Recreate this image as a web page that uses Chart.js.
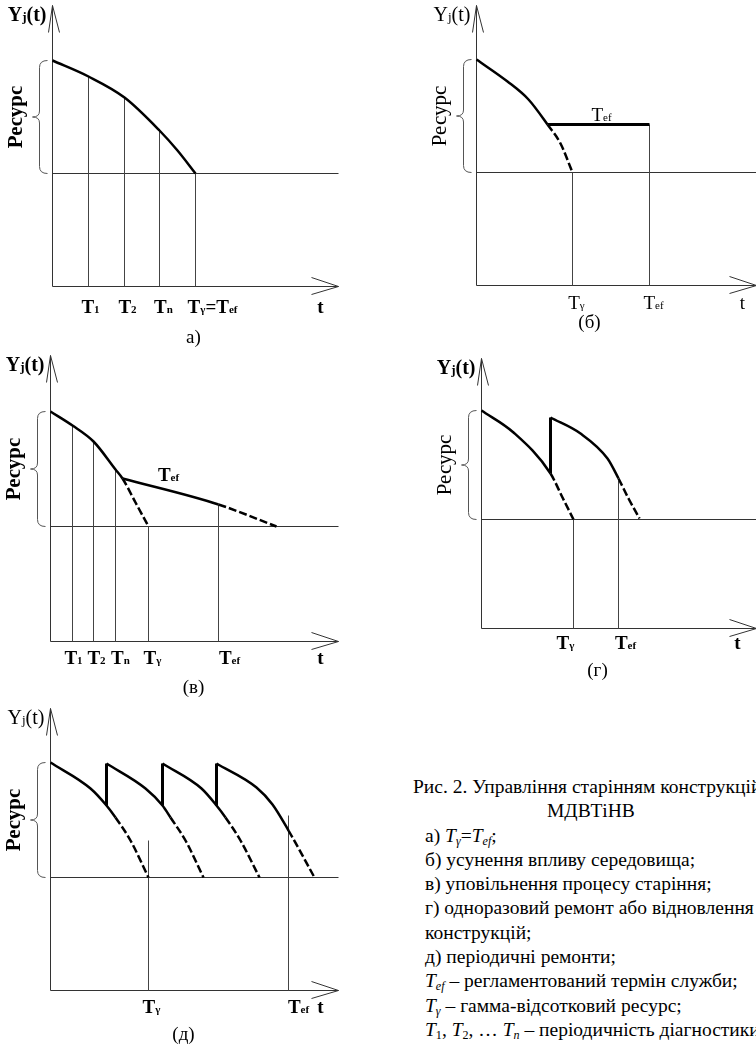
<!DOCTYPE html>
<html>
<head>
<meta charset="utf-8">
<script src="https://cdn.jsdelivr.net/npm/chart.js@4.4.0/dist/chart.umd.min.js"></script>
<style>
body { margin: 0; width: 756px; height: 1048px; overflow: hidden; background: #fff; position: relative; font-family: "Liberation Serif", "Times New Roman", serif; }
canvas { position: absolute; }
#cap { position: absolute; left: 380px; top: 775px; width: 376px; font-size: 19.5px; line-height: 24.3px; white-space: nowrap; overflow: hidden; color: #000; }
#cap sub { font-size: 0.62em; vertical-align: -0.25em; line-height: 0; }
</style>
</head>
<body>
<canvas id="pa"></canvas>
<canvas id="pb"></canvas>
<canvas id="pc"></canvas>
<canvas id="pd"></canvas>
<canvas id="pe"></canvas>
<div id="cap">
  <div style="margin-left:33px">Рис. 2. Управління старінням конструкцій</div>
  <div style="margin-left:167px">МДВТіНВ</div>
  <div style="margin-left:45px">а) <i>T<sub>γ</sub></i>=<i>T<sub>ef</sub></i>;</div>
  <div style="margin-left:45px">б) усунення впливу середовища;</div>
  <div style="margin-left:45px">в) уповільнення процесу старіння;</div>
  <div style="margin-left:45px">г) одноразовий ремонт або відновлення</div>
  <div style="margin-left:45px">конструкцій;</div>
  <div style="margin-left:45px">д) періодичні ремонти;</div>
  <div style="margin-left:45px"><i>T<sub>ef</sub></i> – регламентований термін служби;</div>
  <div style="margin-left:45px"><i>T<sub>γ</sub></i> – гамма-відсотковий ресурс;</div>
  <div style="margin-left:45px"><i>T</i><sub>1</sub>, <i>T</i><sub>2</sub>, … <i>T<sub>n</sub></i> – періодичність діагностики</div>
</div>
<script>
// t - час від початку координат, Y - рівень ресурсу (вгору), одиниці схеми

// а) Tγ = Tef
const aCurveT = [0, 36, 72, 107, 125, 143];
const aCurveY = [226, 210, 189, 156, 136, 113];
const aGuideT = [36, 72, 107, 143];
const aGuideY = [210, 189, 156, 113];
const aTickT = [38, 75, 111, 160, 268];
const aTickLab = ['T_1', 'T_2', 'T_n', 'T_γ=T_ef', 't'];

// б) усунення впливу середовища
const bCurveT = [0, 31, 52, 71, 84, 96];
const bCurveY = [226, 204, 186, 161, 142, 113];
const bTefT = [71, 173];
const bTefY = [161, 161];
const bGuideT = [96, 173];
const bGuideY = [113, 161];
const bTickT = [100, 177, 266];
const bTickLab = ['T_γ', 'T_ef', 't'];

// в) уповільнення процесу старіння
const cCurveT = [0, 22, 43, 65, 72, 85, 98];
const cCurveY = [230, 216, 200, 172, 163, 139, 115];
const cTefT = [72, 168, 226];
const cTefY = [163, 137, 115];
const cGuideT = [22, 43, 65, 98, 168];
const cGuideY = [216, 200, 172, 115, 137];
const cTickT = [23, 46, 70, 102, 179, 270];
const cTickLab = ['T_1', 'T_2', 'T_n', 'T_γ', 'T_ef', 't'];

// г) одноразовий ремонт
const dCurve1T = [0, 32, 69, 81, 92];
const dCurve1Y = [218, 196, 155, 131, 109];
const dCurve2T = [69, 99, 126, 137, 147, 158];
const dCurve2Y = [211, 195, 170, 150, 130, 110];
const dRepairT = [69];
const dGuideT = [92, 137];
const dGuideY = [109, 148];
const dTickT = [84, 144, 256];
const dTickLab = ['T_γ', 'T_ef', 't'];

// д) періодичні ремонти
const eCurve1T = [0, 40, 56, 65, 80, 98];
const eCurve1Y = [228, 202, 185, 173, 150, 113];
const eCurve2T = [56, 95, 112, 120, 135, 153];
const eCurve2Y = [227, 202, 185, 173, 150, 113];
const eCurve3T = [112, 151, 166, 175, 190, 209];
const eCurve3Y = [227, 202, 185, 173, 150, 113];
const eCurve4T = [166, 206, 222, 238, 264];
const eCurve4Y = [227, 203, 186, 160, 113];
const eRepairT = [56, 112, 166];
const eGuideT = [98, 238];
const eGuideY = [150, 175];
const eTickT = [101, 248, 270];
const eTickLab = ['T_γ', 'T_ef', 't'];

const FONT = '"Liberation Serif", "Times New Roman", serif';
const fnt = (size, bold) => (bold ? 'bold ' : '') + size + 'px ' + FONT;

const pts = (ts, ys) => ts.map((t, i) => ({ x: t, y: ys[i] }));
const seg = (x0, y0, x1, y1) => [{ x: x0, y: y0 }, { x: x1, y: y1 }];

function thin(data, color) {
    return { data, borderColor: color || '#333', borderWidth: 1, pointRadius: 0, tension: 0 };
}
function thick(data, dashFrom, width) {
    return {
        data, borderColor: '#000', borderWidth: width || 2.5, pointRadius: 0,
        cubicInterpolationMode: 'monotone',
        segment: { borderDash: c => c.p0DataIndex >= dashFrom ? [8, 3] : undefined }
    };
}

// осі зі стрілками + горизонталь граничного рівня
function axes(top, end, thr) {
    return [
        thin(seg(0, 0, 0, top)),
        thin([{ x: -4, y: top - 27 }, { x: 0, y: top }, { x: 7, y: top - 27 }]),
        thin(seg(0, 0, end, 0)),
        thin([{ x: end - 27, y: 9 }, { x: end, y: 0 }, { x: end - 27, y: -8 }]),
        thin(seg(0, thr, end, thr))
    ];
}
function guides(ts, ys) {
    return ts.map((t, i) => thin(seg(t, 0, t, ys[i]), '#444'));
}

function labelParts(str, size, bold) {
    return str.split(/(_[^=]+)/).filter(s => s).map(s =>
        s[0] === '_' ? [s.slice(1), Math.round(size * 0.6), bold] : [s, size, bold]);
}
function drawParts(ctx, x, y, parts, align) {
    let w = 0;
    parts.forEach(p => { ctx.font = fnt(p[1], p[2]); p.w = ctx.measureText(p[0]).width; w += p.w; });
    let cx = align === 'center' ? x - w / 2 : align === 'right' ? x - w : x;
    ctx.textAlign = 'left';
    parts.forEach(p => { ctx.font = fnt(p[1], p[2]); ctx.fillText(p[0], cx, y); cx += p.w; });
}

function schema(p) {
    return {
        id: 'schema',
        afterDraw(chart) {
            const ctx = chart.ctx;
            const X = v => chart.scales.x.getPixelForValue(v);
            const Y = v => chart.scales.y.getPixelForValue(v);
            ctx.save();
            ctx.fillStyle = '#000';
            ctx.textBaseline = 'alphabetic';

            p.ticks.forEach((t, i) => drawParts(ctx, X(t), Y(p.tickY), labelParts(p.labs[i], 19, p.tickBold), 'center'));
            if (p.over) drawParts(ctx, X(p.over[0]), Y(p.over[1]), labelParts('T_ef', 19, p.tickBold), 'center');

            // Yj(t)
            drawParts(ctx, X(-6), Y(p.top - 15), [['Y', 20, p.yjBold], ['j', 13, p.yjBold], ['(t)', 20, p.yjBold]], 'right');

            // фігурна дужка ресурсу
            const x0 = X(0), yT = Y(p.braceTop), yB = Y(p.thr), yM = (yT + yB) / 2;
            ctx.strokeStyle = '#555';
            ctx.lineWidth = 1;
            ctx.beginPath();
            ctx.moveTo(x0 - 5, yT);
            ctx.quadraticCurveTo(x0 - 13, yT, x0 - 13, yT + 7);
            ctx.lineTo(x0 - 13, yM - 6);
            ctx.quadraticCurveTo(x0 - 13, yM, x0 - 20, yM);
            ctx.quadraticCurveTo(x0 - 13, yM, x0 - 13, yM + 6);
            ctx.lineTo(x0 - 13, yB - 7);
            ctx.quadraticCurveTo(x0 - 13, yB, x0 - 5, yB);
            ctx.stroke();

            ctx.save();
            ctx.translate(X(-36), yM);
            ctx.rotate(-Math.PI / 2);
            ctx.textAlign = 'center';
            ctx.textBaseline = 'middle';
            ctx.font = fnt(21, p.resBold);
            ctx.fillText('Ресурс', 0, 0);
            ctx.restore();

            ctx.font = fnt(19, false);
            ctx.textAlign = 'center';
            ctx.textBaseline = 'middle';
            ctx.fillText(p.cap, X(p.capAt[0]), Y(p.capAt[1]));
            ctx.restore();
        }
    };
}

function panel(id, box, origin, datasets, p) {
    const cv = document.getElementById(id);
    cv.width = box[2];
    cv.height = box[3];
    cv.style.left = box[0] + 'px';
    cv.style.top = box[1] + 'px';
    const xmin = box[0] - origin[0] - 0.5;
    const ymax = origin[1] - box[1] + 0.5;
    new Chart(cv, {
        type: 'line',
        data: { datasets },
        options: {
            responsive: false,
            animation: false,
            events: [],
            layout: { padding: 0 },
            plugins: { legend: { display: false }, tooltip: { enabled: false } },
            elements: { point: { radius: 0 } },
            scales: {
                x: { type: 'linear', display: false, min: xmin, max: xmin + box[2] },
                y: { type: 'linear', display: false, min: ymax - box[3], max: ymax }
            }
        },
        plugins: [schema(p)]
    });
}

// а)
panel('pa', [0, 0, 378, 350], [52, 286], [
    thick(pts(aCurveT, aCurveY), 99),
    ...guides(aGuideT, aGuideY),
    ...axes(281, 286, 113)
], { ticks: aTickT, labs: aTickLab, tickY: -26, tickBold: true, top: 281, thr: 113, braceTop: 226,
     yjBold: true, resBold: true, cap: 'а)', capAt: [141, -52] });

// б)
panel('pb', [378, 0, 378, 340], [476, 285], [
    thick(pts(bCurveT, bCurveY), 3),
    thick(pts(bTefT, bTefY), 99, 3),
    ...guides(bGuideT, bGuideY),
    ...axes(280, 280, 113)
], { ticks: bTickT, labs: bTickLab, tickY: -23, tickBold: false, over: [125, 165], top: 280, thr: 113, braceTop: 226,
     yjBold: false, resBold: false, cap: '(б)', capAt: [113, -38] });

// в)
panel('pc', [0, 345, 378, 355], [50, 641], [
    thick(pts(cCurveT, cCurveY), 4),
    thick(pts(cTefT, cTefY), 1),
    ...guides(cGuideT, cGuideY),
    ...axes(286, 288, 115)
], { ticks: cTickT, labs: cTickLab, tickY: -22, tickBold: true, over: [118, 161], top: 286, thr: 115, braceTop: 230,
     yjBold: true, resBold: true, cap: '(в)', capAt: [143, -47] });

// г)
panel('pd', [378, 340, 378, 345], [481, 628], [
    thick(pts(dCurve1T, dCurve1Y), 2),
    thick(pts(dCurve2T, dCurve2Y), 3),
    ...dRepairT.map(t => thick(seg(t, dCurve1Y[2], t, dCurve2Y[0]), 99, 3)),
    ...guides(dGuideT, dGuideY),
    ...axes(270, 275, 109)
], { ticks: dTickT, labs: dTickLab, tickY: -20, tickBold: true, top: 270, thr: 109, braceTop: 218,
     yjBold: true, resBold: false, cap: '(г)', capAt: [116, -43] });

// д)
panel('pe', [0, 695, 378, 353], [50, 990], [
    thick(pts(eCurve1T, eCurve1Y), 3),
    thick(pts(eCurve2T, eCurve2Y), 3),
    thick(pts(eCurve3T, eCurve3Y), 3),
    thick(pts(eCurve4T, eCurve4Y), 3),
    ...eRepairT.map(t => thick(seg(t, 185, t, 227), 99, 3)),
    ...guides(eGuideT, eGuideY),
    ...axes(282, 288, 113)
], { ticks: eTickT, labs: eTickLab, tickY: -22, tickBold: true, top: 282, thr: 113, braceTop: 228,
     yjBold: false, resBold: true, cap: '(д)', capAt: [133, -45] });
</script>
</body>
</html>
